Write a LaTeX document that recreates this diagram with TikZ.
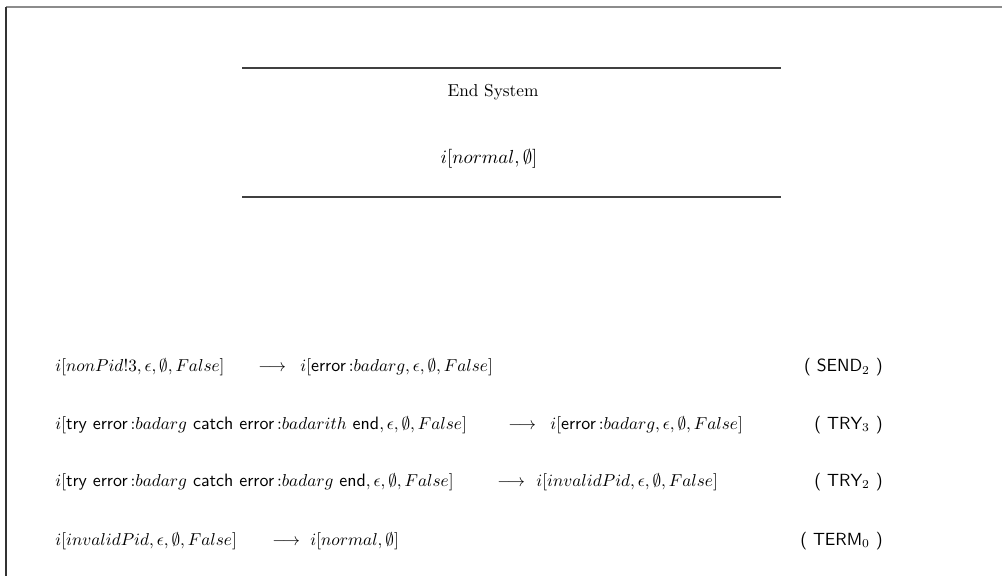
\documentclass[tikz,border=0pt]{standalone}
\usepackage{amsmath,amssymb}
\newcommand{\kw}[1]{\textsf{#1}}
\newcommand{\err}{\kw{error}\,{:}}
\begin{document}
\begin{tikzpicture}[x=0.58pt,y=-0.58pt,
  expr/.style={anchor=base west,inner sep=0pt,font=\fontsize{10.4}{12}\selectfont},
  rulename/.style={anchor=base east,inner sep=0pt,font=\fontsize{10.2}{12}\sffamily},
  rulebar/.style={line width=1.2pt,draw=black!75}]
\useasboundingbox (0,0) rectangle (1002,576);
% page frame: top and left edges
\draw[line width=1.3pt,draw=black!45] (6,7) -- (1002,7);
\draw[line width=1.1pt,draw=black!80] (6,7) -- (6,576);
% end-system box
\coordinate (t1) at (242,68);
\coordinate (t2) at (781,68);
\coordinate (b1) at (242,197);
\coordinate (b2) at (781,197);
\draw[rulebar] (t1) -- (t2);
\draw[rulebar] (b1) -- (b2);
\node[inner sep=0pt] (title) at (493,92) {End System};
\node[inner sep=0pt,font=\fontsize{11}{13}\selectfont] (state) at (489,164) [anchor=base] {$i[normal,\emptyset]$};
% reduction steps
\node[expr] (l1) at (55,372) {$i[nonPid!3,\epsilon,\emptyset,False]$};
\node[expr] (a1) at (258,372) {$\longrightarrow$};
\node[expr] (r1) at (300,372) {$i[\err badarg,\epsilon,\emptyset,False]$};
\node[rulename] (n1) at (883,372) {( SEND$_2$ )};

\node[expr] (l2) at (55,429) {$i[\kw{try}\ \err badarg\ \kw{catch}\ \err badarith\ \kw{end},\epsilon,\emptyset,False]$};
\node[expr] (a2) at (508,429) {$\longrightarrow$};
\node[expr] (r2) at (550,429) {$i[\err badarg,\epsilon,\emptyset,False]$};
\node[rulename] (n2) at (883,429) {( TRY$_3$ )};

\node[expr] (l3) at (55,486) {$i[\kw{try}\ \err badarg\ \kw{catch}\ \err badarg\ \kw{end},\epsilon,\emptyset,False]$};
\node[expr] (a3) at (497,486) {$\longrightarrow$};
\node[expr] (r3) at (536,486) {$i[invalidPid,\epsilon,\emptyset,False]$};
\node[rulename] (n3) at (883,486) {( TRY$_2$ )};

\node[expr] (l4) at (55,545) {$i[invalidPid,\epsilon,\emptyset,False]$};
\node[expr] (a4) at (272,545) {$\longrightarrow$};
\node[expr] (r4) at (310,545) {$i[normal,\emptyset]$};
\node[rulename] (n4) at (883,545) {( TERM$_0$ )};
\end{tikzpicture}
\end{document}
